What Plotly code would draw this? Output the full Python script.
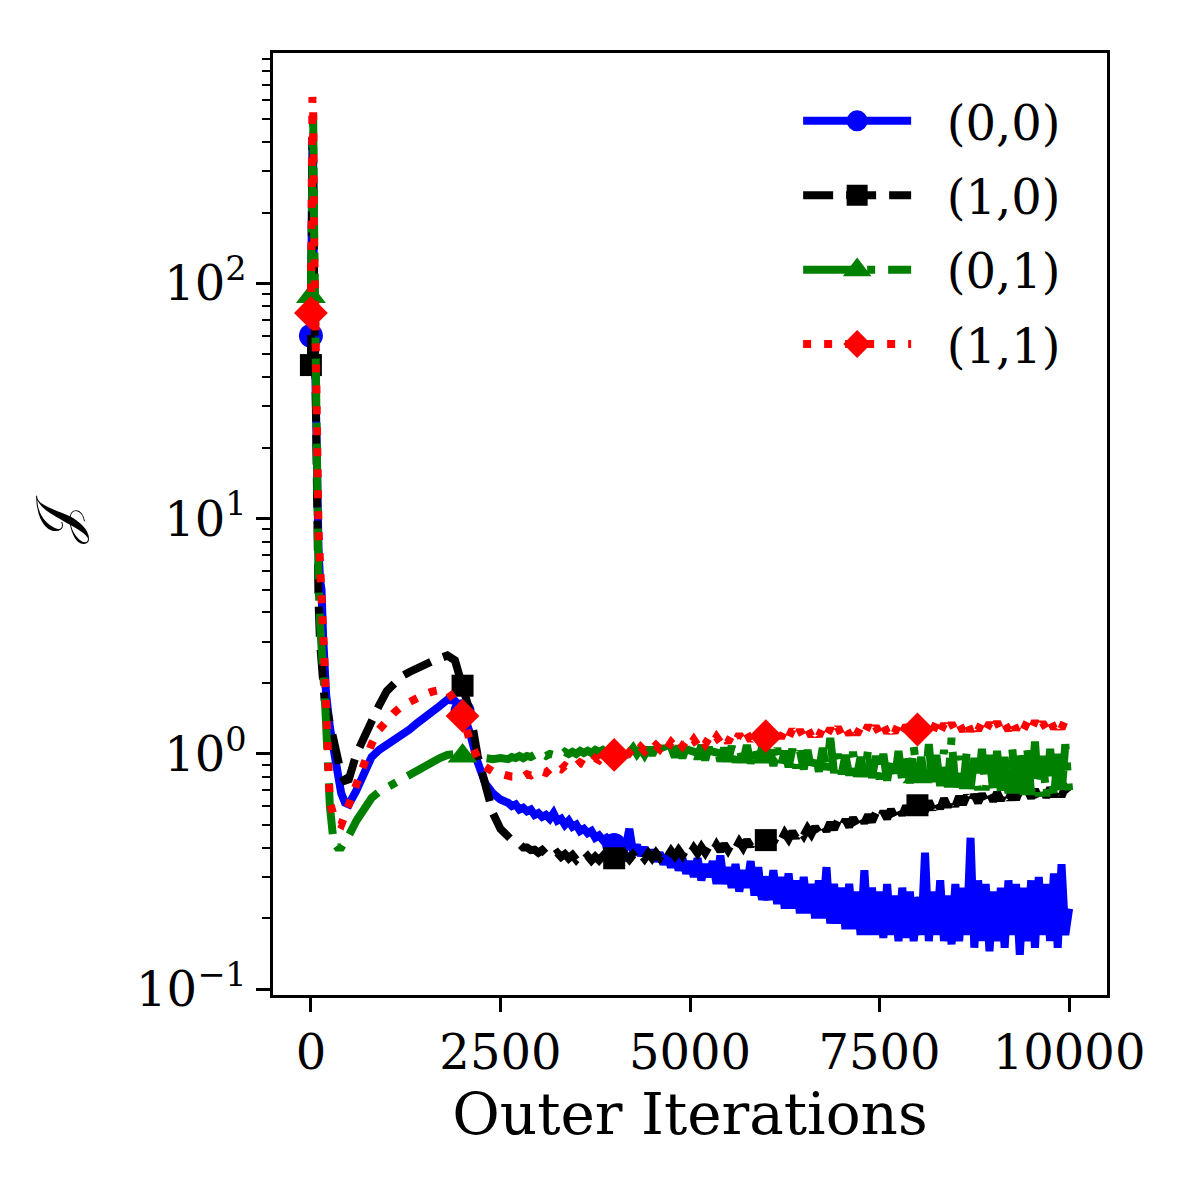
import plotly.graph_objects as go

# iterations shared by all four runs
x_head = [0, 10, 20, 30, 40, 60, 80, 100, 120, 140, 160, 180, 200, 250, 300, 350, 400, 450, 500]
iters = x_head + list(range(600, 2600, 100)) + list(range(2600, 10001, 50))

# (0,0)
j_00 = [60, 150, 420, 330, 90, 25, 12, 7.5, 5.5, 5.0, 3.2, 2.0, 1.8, 1.3, 1.0, 0.82, 0.68, 0.62, 0.61,
        0.70, 0.82, 0.97, 1.04, 1.09, 1.14, 1.2, 1.27, 1.35, 1.42, 1.49, 1.6, 1.7, 1.68, 1.52, 1.22, 0.92, 0.75, 0.68, 0.64,
        0.62, 0.60, 0.61, 0.58, 0.59, 0.57, 0.58, 0.55, 0.56, 0.54, 0.55, 0.53, 0.56, 0.52, 0.53, 0.50, 0.52, 0.49, 0.50, 0.47,
        0.48, 0.46, 0.47, 0.44, 0.45, 0.43, 0.44, 0.42,
        0.41, 0.43, 0.39, 0.40, 0.48, 0.38, 0.41, 0.37, 0.40, 0.36,
        0.39, 0.35, 0.38, 0.34, 0.37, 0.33, 0.38, 0.32, 0.36, 0.31,
        0.35, 0.30, 0.36, 0.29, 0.34, 0.30, 0.35, 0.28, 0.37, 0.28,
        0.33, 0.27, 0.34, 0.26, 0.32, 0.27, 0.35, 0.25, 0.33, 0.24,
        0.27, 0.24, 0.32, 0.23, 0.30, 0.22, 0.31, 0.22, 0.29, 0.21,
        0.30, 0.21, 0.28, 0.20, 0.29, 0.20, 0.33, 0.19, 0.28, 0.19,
        0.27, 0.18, 0.28, 0.18, 0.26, 0.17, 0.32, 0.17, 0.27, 0.17,
        0.26, 0.165, 0.28, 0.17, 0.25, 0.16, 0.27, 0.165, 0.26, 0.16,
        0.22, 0.17, 0.38, 0.16, 0.26, 0.17, 0.29, 0.16, 0.25, 0.155,
        0.28, 0.16, 0.27, 0.17, 0.44, 0.15, 0.29, 0.16, 0.28, 0.145,
        0.26, 0.16, 0.27, 0.15, 0.29, 0.17, 0.28, 0.14, 0.27, 0.16,
        0.29, 0.15, 0.30, 0.17, 0.28, 0.16, 0.31, 0.15, 0.34, 0.17,
        0.22]

# (1,0)
j_10 = [45, 130, 400, 380, 120, 30, 9, 4.5, 3.0, 2.2, 1.9, 1.7, 1.6, 1.35, 1.15, 0.95, 0.82, 0.77, 0.78,
        1.0, 1.19, 1.42, 1.61, 1.85, 2.0, 2.14, 2.23, 2.32, 2.4, 2.48, 2.55, 2.62, 2.5, 1.95, 1.5, 0.98, 0.72, 0.56, 0.48,
        0.44, 0.43, 0.42, 0.415, 0.40, 0.40, 0.39, 0.392,
        0.38, 0.39, 0.375, 0.385, 0.37, 0.38, 0.365, 0.375, 0.36, 0.372,
        0.355, 0.37, 0.355, 0.368, 0.352, 0.366, 0.353, 0.368, 0.352, 0.367,
        0.36, 0.37, 0.355, 0.372, 0.356, 0.373, 0.357, 0.375, 0.358, 0.378,
        0.36, 0.38, 0.362, 0.384, 0.365, 0.387, 0.368, 0.39, 0.37, 0.393,
        0.375, 0.398, 0.378, 0.402, 0.38, 0.405, 0.383, 0.41, 0.386, 0.414,
        0.39, 0.418, 0.395, 0.423, 0.40, 0.43, 0.405, 0.435, 0.41, 0.44,
        0.43, 0.445, 0.42, 0.452, 0.428, 0.46, 0.435, 0.468, 0.44, 0.475,
        0.45, 0.482, 0.456, 0.49, 0.462, 0.50, 0.47, 0.51, 0.478, 0.52,
        0.485, 0.525, 0.49, 0.535, 0.50, 0.545, 0.51, 0.55, 0.515, 0.56,
        0.525, 0.57, 0.53, 0.58, 0.54, 0.59, 0.55, 0.60, 0.555, 0.61,
        0.605, 0.62, 0.57, 0.63, 0.58, 0.635, 0.585, 0.645, 0.595, 0.65,
        0.60, 0.66, 0.61, 0.665, 0.615, 0.67, 0.62, 0.675, 0.625, 0.68,
        0.63, 0.685, 0.635, 0.69, 0.64, 0.695, 0.64, 0.70, 0.645, 0.70,
        0.65, 0.705, 0.65, 0.71, 0.655, 0.715, 0.66, 0.72, 0.66, 0.72,
        0.69]

# (0,1)
j_01 = [88, 200, 480, 520, 200, 40, 12, 5.5, 3.6, 3.0, 2.5, 1.8, 1.35, 0.6, 0.42, 0.40, 0.40, 0.42, 0.45,
        0.52, 0.59, 0.65, 0.69, 0.72, 0.75, 0.77, 0.81, 0.85, 0.89, 0.93, 0.96, 0.99, 1.0, 0.98, 0.96, 0.95, 0.96, 0.95, 0.96,
        0.95, 0.97, 0.96, 0.98, 0.96, 0.98, 0.97, 0.99, 0.97, 1.0, 0.98, 1.0, 0.99, 1.01, 0.99, 1.02, 1.0, 1.02, 1.0, 1.03,
        1.01, 1.03, 1.01, 1.04, 1.02, 1.04, 1.01, 1.05,
        1.02, 1.05, 1.0, 1.04, 1.01, 1.06, 1.0, 1.05, 0.99, 1.06,
        0.99, 1.06, 0.98, 1.08, 0.98, 1.07, 0.97, 1.08, 0.96, 1.07,
        0.96, 1.08, 0.95, 1.09, 0.94, 1.07, 0.94, 1.08, 0.93, 1.06,
        0.93, 1.08, 0.92, 1.06, 0.92, 1.09, 0.91, 1.05, 0.9, 1.07,
        0.97, 1.04, 0.89, 1.06, 0.89, 1.03, 0.88, 1.05, 0.87, 1.03,
        0.86, 1.04, 0.85, 1.01, 0.84, 1.06, 0.83, 1.17, 0.83, 1.0,
        0.82, 0.99, 0.81, 1.02, 0.8, 0.97, 0.8, 1.05, 0.79, 0.98,
        0.78, 1.0, 0.77, 0.96, 0.77, 1.03, 0.76, 0.99, 0.75, 1.08,
        0.8, 0.97, 0.74, 1.1, 0.73, 0.99, 0.73, 1.04, 0.72, 1.17,
        0.72, 0.98, 0.71, 1.02, 0.71, 0.96, 0.7, 1.05, 0.7, 0.99,
        0.69, 1.03, 0.69, 0.97, 0.68, 1.06, 0.68, 1.0, 0.67, 1.04,
        0.67, 1.13, 0.66, 0.98, 0.66, 1.05, 0.65, 1.0, 0.66, 1.1,
        0.7]

# (1,1)
j_11 = [75, 200, 620, 560, 180, 45, 20, 9, 6.5, 5.0, 3.5, 2.4, 1.6, 0.62, 0.55, 0.51, 0.50, 0.55, 0.62,
        0.76, 0.93, 1.1, 1.27, 1.4, 1.5, 1.6, 1.67, 1.73, 1.79, 1.84, 1.87, 1.86, 1.68, 1.45, 1.13, 0.96, 0.88, 0.84, 0.82,
        0.81, 0.80, 0.80, 0.81, 0.80, 0.82, 0.81, 0.83,
        0.82, 0.84, 0.83, 0.86, 0.84, 0.87, 0.86, 0.89, 0.87, 0.90,
        0.89, 0.92, 0.90, 0.94, 0.92, 0.96, 0.94, 0.98, 0.96, 1.0,
        0.99, 1.02, 1.0, 1.04, 1.01, 1.06, 1.02, 1.07, 1.03, 1.08,
        1.05, 1.09, 1.05, 1.11, 1.06, 1.12, 1.07, 1.13, 1.08, 1.14,
        1.09, 1.15, 1.09, 1.16, 1.1, 1.17, 1.11, 1.18, 1.12, 1.19,
        1.12, 1.2, 1.13, 1.21, 1.13, 1.22, 1.14, 1.22, 1.15, 1.23,
        1.19, 1.24, 1.16, 1.25, 1.17, 1.26, 1.17, 1.27, 1.18, 1.26,
        1.18, 1.28, 1.19, 1.27, 1.19, 1.29, 1.2, 1.28, 1.2, 1.3,
        1.2, 1.29, 1.21, 1.31, 1.21, 1.3, 1.22, 1.32, 1.22, 1.31,
        1.22, 1.33, 1.23, 1.31, 1.23, 1.34, 1.23, 1.32, 1.24, 1.33,
        1.27, 1.35, 1.24, 1.33, 1.24, 1.36, 1.24, 1.34, 1.25, 1.35,
        1.25, 1.34, 1.25, 1.37, 1.25, 1.35, 1.26, 1.36, 1.26, 1.35,
        1.26, 1.37, 1.26, 1.35, 1.26, 1.38, 1.27, 1.36, 1.27, 1.37,
        1.27, 1.38, 1.27, 1.36, 1.28, 1.39, 1.28, 1.37, 1.28, 1.4,
        1.3]

mark_at = [0, 2000, 4000, 6000, 8000]
mark_idx = [iters.index(v) for v in mark_at]

series = [
    ("(0,0)", j_00, "blue", "solid", "circle", 24),
    ("(1,0)", j_10, "black", "30px,13px", "square", 22),
    ("(0,1)", j_01, "green", "51px,13px,8px,13px", "triangle-up", 26),
    ("(1,1)", j_11, "red", "8px,13px", "diamond", 26),
]

serif = "DejaVu Serif"
fig = go.Figure()
for name, vals, col, dash, sym, ms in series:
    fig.add_trace(go.Scatter(x=iters, y=vals, mode="lines", showlegend=False,
                             line=dict(color=col, width=8, dash=dash)))
    fig.add_trace(go.Scatter(x=[iters[i] for i in mark_idx], y=[vals[i] for i in mark_idx],
                             mode="markers", showlegend=False,
                             marker=dict(color=col, symbol=sym, size=ms)))

# legend entries
for name, vals, col, dash, sym, ms in series:
    fig.add_trace(go.Scatter(x=[None], y=[None], mode="lines+markers",
                             name="\u00a0\u00a0" + name, legendgroup=name,
                             line=dict(color=col, width=8, dash=dash),
                             marker=dict(color=col, symbol=sym, size=16,
                                         line=dict(color=col, width=5))))

fig.update_layout(
    width=1200, height=1200,
    paper_bgcolor="white", plot_bgcolor="white",
    margin=dict(l=265, r=101, t=45, b=213),
    font=dict(family=serif, size=48, color="black"),
    legend=dict(x=0.951, y=0.968, xanchor="right", yanchor="top",
                bgcolor="rgba(0,0,0,0)", itemwidth=108, tracegroupgap=9,
                font=dict(family=serif, size=48)),
)
fig.update_xaxes(range=[-500, 10500], tickvals=[0, 2500, 5000, 7500, 10000],
                 ticktext=["0", "2500", "5000", "7500", "10000"],
                 showline=True, mirror=True, linecolor="black", linewidth=2.5,
                 ticks="outside", ticklen=14, tickwidth=2.5, tickcolor="black",
                 showgrid=False, zeroline=False,
                 title=dict(text="Outer Iterations", standoff=4))
fig.update_yaxes(type="log", range=[-1.025, 2.98],
                 tickvals=[0.1, 1, 10, 100],
                 ticktext=["10<sup>\u22121</sup>", "10<sup>0</sup>", "10<sup>1</sup>", "10<sup>2</sup>"],
                 showline=True, mirror=True, linecolor="black", linewidth=2.5,
                 ticks="outside", ticklen=14, tickwidth=2.5, tickcolor="black",
                 minor=dict(ticks="outside", ticklen=8, tickwidth=2, tickcolor="black", dtick="D1"),
                 showgrid=False, zeroline=False,
                 title=dict(text="\U0001D4A5", standoff=40))

fig.write_html("out.html")
